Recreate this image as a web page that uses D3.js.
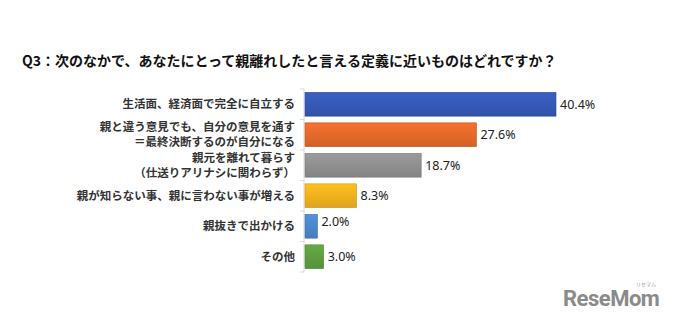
<!DOCTYPE html>
<html>
<head>
<meta charset="utf-8">
<script src="https://cdn.jsdelivr.net/npm/d3@7"></script>
<style>
  body { margin: 0; background: #fff; }
  svg { display: block; font-family: "Noto Sans CJK JP", "Noto Sans", sans-serif; }
  .cat { font-size: 11.5px; font-weight: bold; fill: #333; }
  .val { font-size: 12.5px; fill: #222; font-family: "Noto Sans", "Liberation Sans", sans-serif; }
</style>
</head>
<body>
<svg width="674" height="318"></svg>
<script>
/* chart data */
var categories = [
  ["生活面、経済面で完全に自立する"],
  ["親と違う意見でも、自分の意見を通す", "＝最終決断するのが自分になる"],
  ["親元を離れて暮らす", "（仕送りアリナシに関わらず）"],
  ["親が知らない事、親に言わない事が増える"],
  ["親抜きで出かける"],
  ["その他"]
];
var values = [40.4, 27.6, 18.7, 8.3, 2.0, 3.0];
var colors = ["#3558b4", "#e0682a", "#8e8e8e", "#f0b01c", "#4a86c9", "#5d9c3d"];
var title = "Q3：次のなかで、あなたにとって親離れしたと言える定義に近いものはどれですか？";

var svg = d3.select("svg"),
    margin = {top: 89, left: 304},
    height = 183;

var rows = values.map(function(v, i) { return {i: i, lines: categories[i], value: v, color: colors[i]}; });

var y = d3.scaleBand().domain(d3.range(rows.length)).range([0, height]).paddingInner(0.22).paddingOuter(0.11);
var x = d3.scaleLinear().domain([0, 40.4]).range([0, 251]);

svg.append("text")
    .attr("x", 22).attr("y", 66)
    .attr("font-size", 14).attr("font-weight", "bold").attr("fill", "#111")
    .text(title);

var g = svg.append("g").attr("transform", "translate(" + margin.left + "," + margin.top + ")");

/* axis line with tick marks between bands */
g.append("line").attr("x1", 0).attr("x2", 0).attr("y1", 0).attr("y2", height)
    .attr("stroke", "#d9d9d9");
g.selectAll(".tk").data(d3.range(rows.length + 1)).enter().append("line")
    .attr("x1", -4).attr("x2", 0)
    .attr("y1", function(d) { return d * height / rows.length; })
    .attr("y2", function(d) { return d * height / rows.length; })
    .attr("stroke", "#d9d9d9");

var defs = svg.append("defs");
rows.forEach(function(d) {
  var gr = defs.append("linearGradient").attr("id", "gr" + d.i).attr("x1", 0).attr("x2", 0).attr("y1", 0).attr("y2", 1);
  gr.append("stop").attr("offset", "0%").attr("stop-color", d3.color(d.color).brighter(0.25));
  gr.append("stop").attr("offset", "100%").attr("stop-color", d3.color(d.color).darker(0.2));
});

g.selectAll(".bar").data(rows).enter().append("rect")
    .attr("class", "bar")
    .attr("x", 1)
    .attr("y", function(d) { return y(d.i); })
    .attr("width", function(d) { return x(d.value); })
    .attr("height", y.bandwidth())
    .attr("fill", function(d) { return "url(#gr" + d.i + ")"; })
    .attr("stroke", function(d) { return d3.color(d.color).darker(0.5); })
    .attr("stroke-width", 0.6);

g.selectAll(".val").data(rows).enter().append("text")
    .attr("class", "val")
    .attr("x", function(d) { return x(d.value) + 5; })
    .attr("y", function(d) { return y(d.i) + y.bandwidth() / 2 + (d.i === 4 ? -5 : 0); })
    .attr("dy", "0.36em")
    .text(function(d) { return d.value.toFixed(1) + "%"; });

var labels = g.selectAll(".cat").data(rows).enter().append("text")
    .attr("class", "cat")
    .attr("text-anchor", "end")
    .attr("y", function(d) { return y(d.i) + y.bandwidth() / 2; });
labels.selectAll("tspan").data(function(d) { return d.lines.map(function(t, k) { return {t: t, k: k, n: d.lines.length}; }); })
  .enter().append("tspan")
    .attr("x", -9)
    .attr("dy", function(t) { return t.k === 0 ? (0.36 - (t.n - 1) * 0.66) + "em" : "1.32em"; })
    .text(function(t) { return t.t; });

/* watermark */
svg.append("text").attr("x", 563).attr("y", 306)
    .attr("font-size", 22).attr("font-weight", "bold").attr("fill", "#8a8a8a")
    .attr("font-family", "Roboto, sans-serif").attr("letter-spacing", -0.5)
    .text("ReseMom");
svg.append("text").attr("x", 636).attr("y", 286)
    .attr("font-size", 5).attr("fill", "#999")
    .text("リセマム");
</script>
</body>
</html>
